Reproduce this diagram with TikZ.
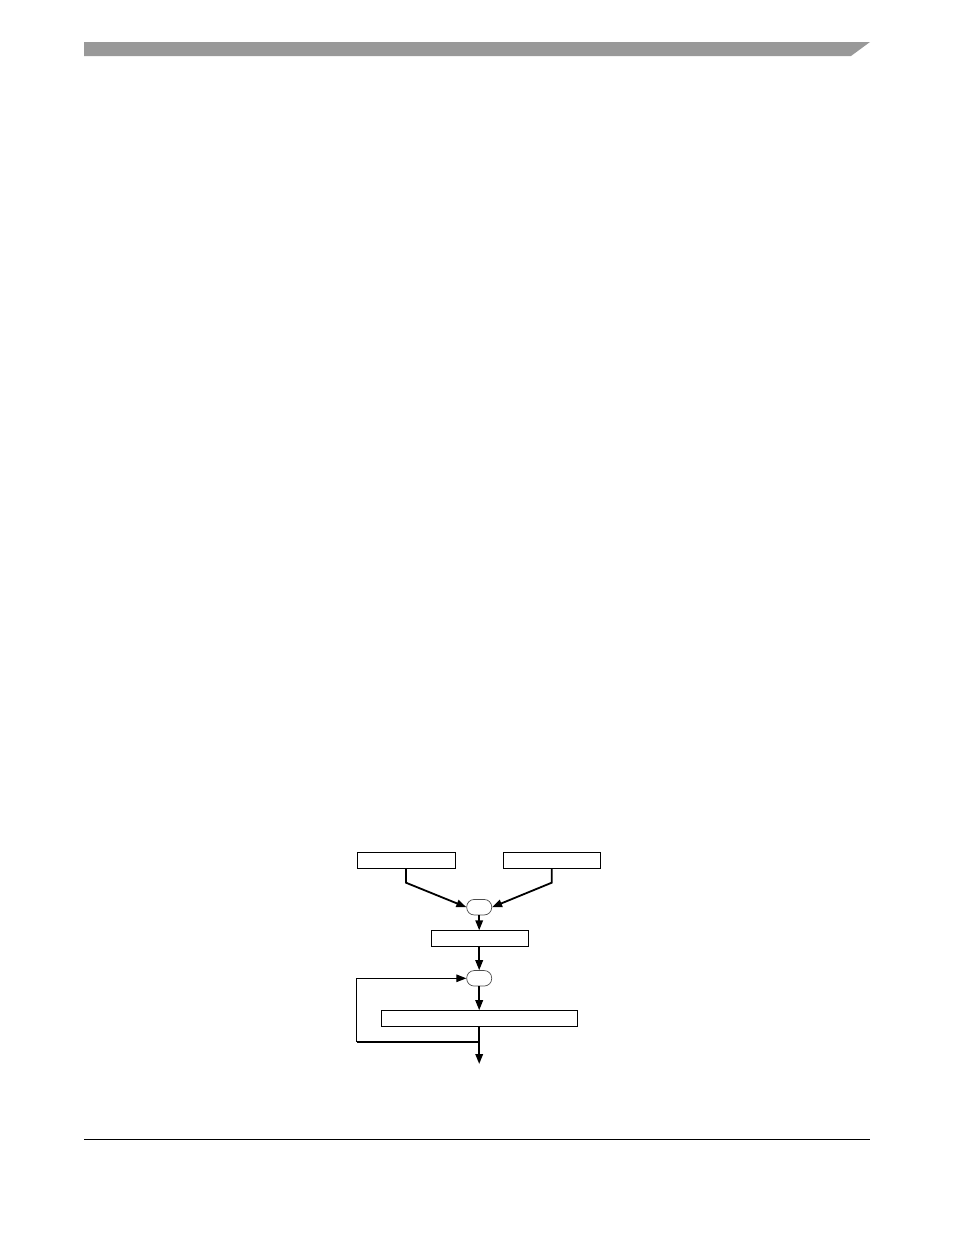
\documentclass[tikz,border=0pt]{standalone}
\usetikzlibrary{arrows.meta}
\begin{document}
\begin{tikzpicture}[x=1pt,y=-1pt,
  boxnode/.style={draw=black,line width=0.8pt,minimum height=15.5pt,inner sep=0pt,anchor=north west},
  ovalnode/.style={draw=black!70,line width=0.7pt,rounded corners=7.5pt,minimum width=25pt,minimum height=15.5pt,inner sep=0pt},
  flow/.style={line width=1.8pt,-{Triangle[length=10pt,width=7.5pt]}},
  flowplain/.style={line width=1.8pt},
  loopline/.style={line width=1.2pt}]
\useasboundingbox (0,0) rectangle (954,1235);
% header bar and footer rule
\fill[black!40] (84,42) -- (870,42) -- (851,56) -- (84,56) -- cycle;
\draw[line width=1pt] (84,1139) -- (870,1139);
% nodes
\node[boxnode,minimum width=97.5pt] (b1) at (357,852.3) {};
\node[boxnode,minimum width=96.7pt] (b2) at (503.3,852.3) {};
\node[ovalnode] (o1) at (479.2,907.2) {};
\node[boxnode,minimum width=97pt] (b3) at (430.7,930.3) {};
\node[ovalnode] (o2) at (479.2,978.3) {};
\node[boxnode,minimum width=195.7pt] (b4) at (381,1010.2) {};
\coordinate (j) at (479.2,1041.7);
\coordinate (out) at (479.2,1064);
\coordinate (lc1) at (356.7,1041.7);
\coordinate (lc2) at (356.7,978.3);
% connectors
\draw[flow] (b1.south -| 406,0) -- (406,882.7) -- (o1.west);
\draw[flow] (b2.south -| 551.7,0) -- (551.7,882.7) -- (o1.east);
\draw[flow] (o1.south) -- (b3.north -| o1.south);
\draw[flow] (b3.south -| o2.north) -- (o2.north);
\draw[flow] (o2.south) -- (b4.north -| o2.south);
\draw[flowplain] (b4.south -| j) -- (j);
\draw[flow] (j) -- (out);
\draw[flowplain] (j) -- (lc1);
\draw[loopline,-{Triangle[length=10pt,width=7.5pt]}] (lc1) -- (lc2) -- (o2.west);
\end{tikzpicture}
\end{document}
